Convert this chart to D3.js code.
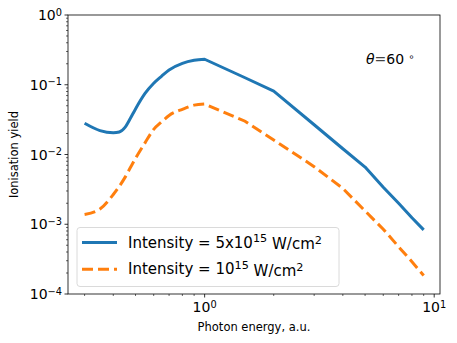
<!DOCTYPE html>
<html>
<head>
<meta charset="utf-8">
<script src="https://cdn.jsdelivr.net/npm/d3@7"></script>
<style>
  body { margin: 0; background: #fff; }
  text { font-family: "DejaVu Sans", sans-serif; fill: #000; }
</style>
</head>
<body>
<div class="chart"></div>
<script>
var width = 457, height = 343;
var margin = {left: 68, right: 17, top: 15, bottom: 49};

// photon energy (a.u.)
var energy = [0.3, 0.35, 0.4, 0.425, 0.45, 0.475, 0.5, 0.55, 0.6, 0.65, 0.7, 0.8, 0.9, 1.0,
              1.5, 2, 3, 4, 5, 6, 7, 8, 9];
// ionisation yield, I = 5x10^15 W/cm^2
var yieldHigh = [0.028, 0.022, 0.0205, 0.021, 0.0245, 0.033, 0.045, 0.075, 0.105, 0.133, 0.163, 0.203, 0.224, 0.232,
                 0.126, 0.081, 0.0267, 0.0121, 0.0066, 0.0034, 0.0020, 0.00124, 0.00083];
// ionisation yield, I = 10^15 W/cm^2
var yieldLow = [0.00138, 0.00165, 0.00267, 0.0035, 0.0047, 0.0065, 0.0088, 0.0147, 0.0229, 0.0294, 0.0363, 0.0445, 0.051, 0.053,
                0.030, 0.0161, 0.0067, 0.00326, 0.00155, 0.00085, 0.000475, 0.00029, 0.000184];

var seriesNames = ["Intensity = 5x10|15| W/cm|2", "Intensity = 10|15| W/cm|2"];
var seriesColors = ["#1f77b4", "#ff7f0e"];
var yTicks = [1e-4, 1e-3, 1e-2, 1e-1, 1];
var xTicks = [1, 10];

var svg = d3.select(".chart").append("svg")
    .attr("width", width)
    .attr("height", height);

var x = d3.scaleLog()
    .domain([0.254, 10.6])
    .range([margin.left, width - margin.right]);
var y = d3.scaleLog()
    .domain([1e-4, 1])
    .range([height - margin.bottom, margin.top]);

// superscript label like 10^n
function powLabel(sel, base, exp) {
  sel.append("tspan").text(base);
  sel.append("tspan").attr("dy", "-0.45em").attr("font-size", "0.7em").text(exp);
}

// minor ticks
var xMinor = [], yMinor = [];
[0.1, 1].forEach(function(d) {
  for (var k = 2; k <= 9; k++) xMinor.push(d * k);
});
[1e-4, 1e-3, 1e-2, 1e-1].forEach(function(d) {
  for (var k = 2; k <= 9; k++) yMinor.push(d * k);
});
xMinor = xMinor.filter(function(d) { return d >= x.domain()[0] && d <= x.domain()[1]; });

var axes = svg.append("g");
var y0 = height - margin.bottom;
axes.selectAll(".xminor").data(xMinor).enter().append("line")
    .attr("x1", function(d) { return x(d); }).attr("x2", function(d) { return x(d); })
    .attr("y1", y0).attr("y2", y0 + 2).attr("stroke", "#000").attr("stroke-width", 0.6);
axes.selectAll(".xmajor").data(xTicks).enter().append("line")
    .attr("x1", function(d) { return x(d); }).attr("x2", function(d) { return x(d); })
    .attr("y1", y0).attr("y2", y0 + 3.5).attr("stroke", "#000").attr("stroke-width", 0.8);
axes.selectAll(".yminor").data(yMinor).enter().append("line")
    .attr("y1", function(d) { return y(d); }).attr("y2", function(d) { return y(d); })
    .attr("x1", margin.left).attr("x2", margin.left - 2).attr("stroke", "#000").attr("stroke-width", 0.6);
axes.selectAll(".ymajor").data(yTicks).enter().append("line")
    .attr("y1", function(d) { return y(d); }).attr("y2", function(d) { return y(d); })
    .attr("x1", margin.left).attr("x2", margin.left - 3.5).attr("stroke", "#000").attr("stroke-width", 0.8);

// tick labels
axes.selectAll(".xlab").data(xTicks).enter().append("text")
    .attr("x", function(d) { return x(d); })
    .attr("y", y0 + 18)
    .attr("text-anchor", "middle")
    .attr("font-size", 14)
    .each(function(d) { powLabel(d3.select(this), "10", Math.round(Math.log10(d))); });
axes.selectAll(".ylab").data(yTicks).enter().append("text")
    .attr("x", margin.left - 6)
    .attr("y", function(d) { return y(d) + 5; })
    .attr("text-anchor", "end")
    .attr("font-size", 14)
    .each(function(d) {
      var e = Math.round(Math.log10(d));
      powLabel(d3.select(this), "10", e < 0 ? "\u2212" + (-e) : e);
    });

// axis titles
svg.append("text")
    .attr("x", (margin.left + width - margin.right) / 2)
    .attr("y", height - 12)
    .attr("text-anchor", "middle")
    .attr("font-size", 11.5)
    .text("Photon energy, a.u.");
svg.append("text")
    .attr("transform", "translate(18," + (margin.top + y0) / 2 + ") rotate(-90)")
    .attr("text-anchor", "middle")
    .attr("font-size", 11.5)
    .text("Ionisation yield");

// lines: smooth below 1 a.u., straight segments above
var smooth = d3.line()
    .x(function(d) { return x(d[0]); })
    .y(function(d) { return y(d[1]); })
    .curve(d3.curveMonotoneX);
var straight = d3.line()
    .x(function(d) { return x(d[0]); })
    .y(function(d) { return y(d[1]); });
function pathFor(vals) {
  var pts = d3.zip(energy, vals);
  var left = pts.filter(function(d) { return d[0] <= 1; });
  var right = pts.filter(function(d) { return d[0] >= 1; });
  return smooth(left) + "L" + straight(right).slice(1);
}

var plot = svg.append("g");
plot.append("path")
    .attr("d", pathFor(yieldHigh))
    .attr("fill", "none")
    .attr("stroke", seriesColors[0])
    .attr("stroke-width", 3)
    .attr("stroke-linejoin", "round");
plot.append("path")
    .attr("d", pathFor(yieldLow))
    .attr("fill", "none")
    .attr("stroke", seriesColors[1])
    .attr("stroke-width", 3)
    .attr("stroke-dasharray", "11,5");

// frame
svg.append("rect")
    .attr("x", margin.left).attr("y", margin.top)
    .attr("width", width - margin.right - margin.left)
    .attr("height", y0 - margin.top)
    .attr("fill", "none").attr("stroke", "#000").attr("stroke-width", 0.8);

// annotation
var ann = svg.append("text")
    .attr("x", 366).attr("y", 64)
    .attr("font-size", 14);
ann.append("tspan").attr("font-style", "italic").text("\u03b8");
ann.append("tspan").attr("fill", "#444").text("=");
ann.append("tspan").text("60 ");
ann.append("tspan").attr("dy", "-0.45em").attr("font-size", "0.7em").text("\u2218");

// legend
var legend = svg.append("g");
legend.append("rect")
    .attr("x", 77).attr("y", 227.5).attr("width", 262).attr("height", 59)
    .attr("rx", 3)
    .attr("fill", "#fff").attr("fill-opacity", 0.8)
    .attr("stroke", "#d0d0d0").attr("stroke-width", 0.8);
var items = legend.selectAll(".item").data(seriesNames).enter().append("g")
    .attr("transform", function(d, i) { return "translate(0," + (242.5 + i * 26.8) + ")"; });
items.append("line")
    .attr("x1", 82).attr("x2", 117)
    .attr("stroke", function(d, i) { return seriesColors[i]; })
    .attr("stroke-width", 3)
    .attr("stroke-dasharray", function(d, i) { return i ? "11,5" : null; });
items.append("text")
    .attr("x", 128).attr("y", 5)
    .attr("font-size", 15)
    .each(function(d) {
      var parts = d.split("|"), t = d3.select(this);
      parts.forEach(function(p, j) {
        if (j % 2) t.append("tspan").attr("dy", "-0.45em").attr("font-size", "0.75em").text(p);
        else t.append("tspan").attr("dy", j ? "0.45em" : null).text(p);
      });
    });
</script>
</body>
</html>
